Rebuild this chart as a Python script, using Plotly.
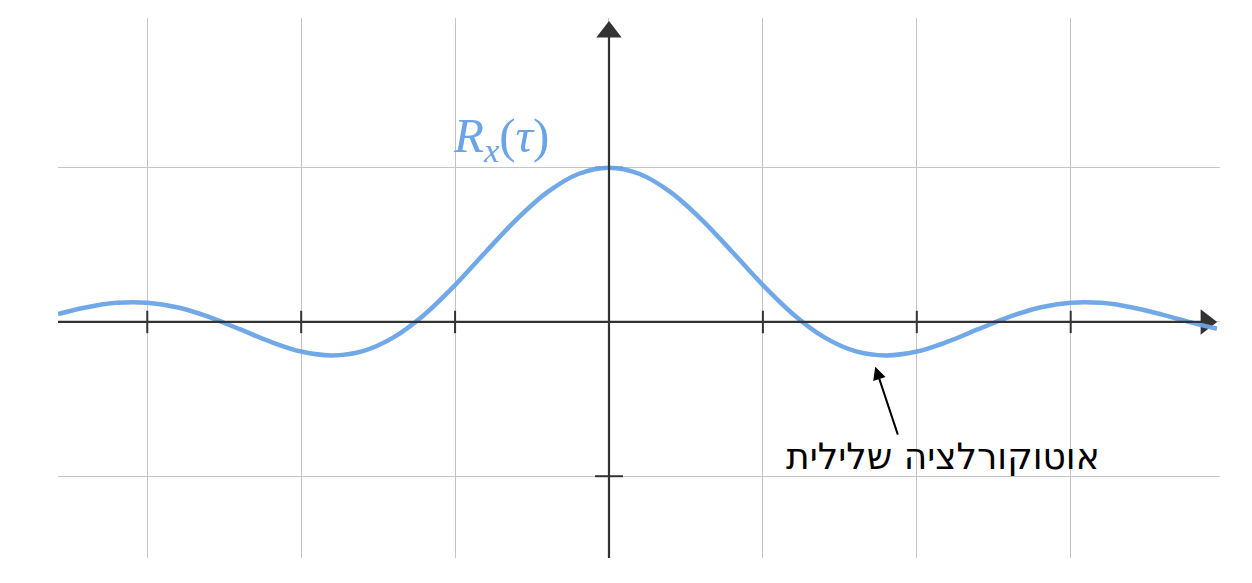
import plotly.graph_objects as go

# Curve samples (tau, R_x(tau))
tau = [-3.58, -3.4, -3.2, -3.0, -2.8, -2.6, -2.4, -2.2, -2.0, -1.8, -1.6, -1.4, -1.2, -1.0,
       -0.8, -0.6, -0.4, -0.2, 0.0, 0.2, 0.4, 0.6, 0.8, 1.0, 1.2, 1.4, 1.6, 1.8, 2.0,
       2.2, 2.4, 2.6, 2.8, 3.0, 3.2, 3.4, 3.6, 3.8, 3.95]
r_vals = [0.051, 0.094, 0.124, 0.125, 0.094, 0.033, -0.047, -0.128, -0.192, -0.217, -0.189,
          -0.100, 0.047, 0.239, 0.455, 0.665, 0.841, 0.959, 1.0, 0.959, 0.841, 0.665, 0.455,
          0.239, 0.047, -0.100, -0.189, -0.217, -0.192, -0.128, -0.047, 0.033, 0.094, 0.125,
          0.124, 0.094, 0.046, -0.008, -0.044]

x_ticks = [-3, -2, -1, 1, 2, 3]
y_ticks = [-1, 1]

label_curve = "<i>R</i><sub><i>x</i></sub>(<i>τ</i>)"
label_note = "אוטוקורלציה שלילית"

X_MIN, X_MAX = -3.58, 3.97
Y_MIN, Y_MAX = -1.53, 1.97

curve_color = "rgb(106,164,230)"
axis_color = "#333333"

fig = go.Figure()

# axis lines
fig.add_shape(type="line", x0=X_MIN, x1=3.88, y0=0, y1=0,
              line=dict(color=axis_color, width=2.2), layer="above")
fig.add_shape(type="line", x0=0, x1=0, y0=Y_MIN, y1=1.85,
              line=dict(color=axis_color, width=2.2), layer="above")

# ticks
fig.add_trace(go.Scatter(x=x_ticks, y=[0] * len(x_ticks), mode="markers",
                         marker=dict(symbol="line-ns-open", size=16, color=axis_color,
                                     line=dict(color=axis_color, width=2)),
                         hoverinfo="skip", showlegend=False))
fig.add_trace(go.Scatter(x=[0] * len(y_ticks), y=y_ticks, mode="markers",
                         marker=dict(symbol="line-ew-open", size=20, color=axis_color,
                                     line=dict(color=axis_color, width=2)),
                         hoverinfo="skip", showlegend=False))

# arrow heads
fig.add_trace(go.Scatter(x=[0], y=[1.88], mode="markers",
                         marker=dict(symbol="triangle-up", size=22, color=axis_color),
                         hoverinfo="skip", showlegend=False))
fig.add_trace(go.Scatter(x=[3.88], y=[0], mode="markers",
                         marker=dict(symbol="triangle-right", size=22, color=axis_color),
                         hoverinfo="skip", showlegend=False))

# curve
fig.add_trace(go.Scatter(x=tau, y=r_vals, mode="lines", line_shape="spline",
                         line=dict(color=curve_color, width=4.5), opacity=0.95,
                         hoverinfo="skip", showlegend=False))

fig.add_annotation(x=-0.38, y=1.19, xref="x", yref="y", text=label_curve,
                   showarrow=False, xanchor="right", yanchor="middle",
                   font=dict(family="Liberation Serif", size=49, color=curve_color))

fig.add_annotation(x=1.73, y=-0.29, ax=1.88, ay=-0.74, xref="x", yref="y",
                   axref="x", ayref="y", text="", showarrow=True,
                   arrowhead=2, arrowsize=1.3, arrowwidth=2, arrowcolor="black")

fig.add_annotation(x=2.17, y=-0.87, xref="x", yref="y", text=label_note,
                   showarrow=False, xanchor="center", yanchor="middle",
                   font=dict(family="DejaVu Sans", size=36, color="black"))

fig.update_layout(
    width=1252, height=583,
    margin=dict(l=50, r=40, t=10, b=33),
    paper_bgcolor="white", plot_bgcolor="white",
    xaxis=dict(range=[X_MIN, X_MAX], dtick=1, tick0=0, showgrid=True,
               gridcolor="#c4c4c4", gridwidth=1, zeroline=False,
               showticklabels=False, showline=False, fixedrange=True),
    yaxis=dict(range=[Y_MIN, Y_MAX], dtick=1, tick0=0, showgrid=True,
               gridcolor="#c4c4c4", gridwidth=1, zeroline=False,
               showticklabels=False, showline=False, fixedrange=True),
)

fig.write_html("out.html")
